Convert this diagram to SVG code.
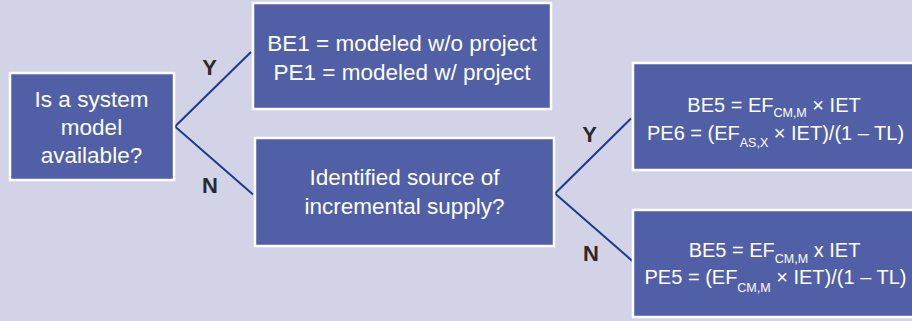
<svg xmlns="http://www.w3.org/2000/svg" width="912" height="321" viewBox="0 0 912 321">
<style>
.box{fill:#515fa6;stroke:#ffffff;stroke-width:2.5}
.t{font-family:"Liberation Sans",Arial,sans-serif;font-size:22.5px;fill:#ffffff;text-anchor:middle}
.f{font-family:"Liberation Sans",Arial,sans-serif;font-size:20px;fill:#ffffff;text-anchor:middle}
.s{font-size:12.5px}
.lbl{font-family:"Liberation Sans",Arial,sans-serif;font-size:22px;font-weight:bold;fill:#2a2a2a;text-anchor:middle}
.con{fill:none;stroke:#1d3a8c;stroke-width:2}
</style>
<rect width="912" height="321" fill="#d3d3e8"/>
<g id="connectors">
<polyline class="con" points="251,52 175,126.5 253,194.5"/>
<polyline class="con" points="631,118.5 555,193.5 633,261.5"/>
<text class="lbl" x="209.5" y="75">Y</text>
<text class="lbl" x="210" y="193">N</text>
<text class="lbl" x="589.5" y="141.5">Y</text>
<text class="lbl" x="591" y="260.5">N</text>
</g>
<g id="q1">
<rect class="box" x="10" y="73" width="164" height="107"/>
<text class="t" x="91.5" y="107">Is a system</text>
<text class="t" x="91.5" y="135">model</text>
<text class="t" x="91.5" y="163">available?</text>
</g>
<g id="r1">
<rect class="box" x="253" y="3" width="298" height="106"/>
<text class="t" x="402" y="51">BE1 = modeled w/o project</text>
<text class="t" x="402" y="80">PE1 = modeled w/ project</text>
</g>
<g id="q2">
<rect class="box" x="255" y="138" width="299" height="108"/>
<text class="t" x="404.5" y="185">Identified source of</text>
<text class="t" x="404.5" y="214">incremental supply?</text>
</g>
<g id="r2">
<rect class="box" x="633" y="63" width="300" height="107"/>
<text class="f" x="774" y="112">BE5 = EF<tspan class="s" dy="5">CM,M</tspan><tspan dy="-5"> × IET</tspan></text>
<text class="f" x="775.5" y="140">PE6 = (EF<tspan class="s" dy="7">AS,X</tspan><tspan dy="-7"> × IET)/(1 – TL)</tspan></text>
</g>
<g id="r3">
<rect class="box" x="633" y="210" width="300" height="107"/>
<text class="f" x="774.5" y="257">BE5 = EF<tspan class="s" dy="6">CM,M</tspan><tspan dy="-6"> x IET</tspan></text>
<text class="f" x="775.5" y="284">PE5 = (EF<tspan class="s" dy="8">CM,M</tspan><tspan dy="-8"> × IET)/(1 – TL)</tspan></text>
</g>
</svg>
